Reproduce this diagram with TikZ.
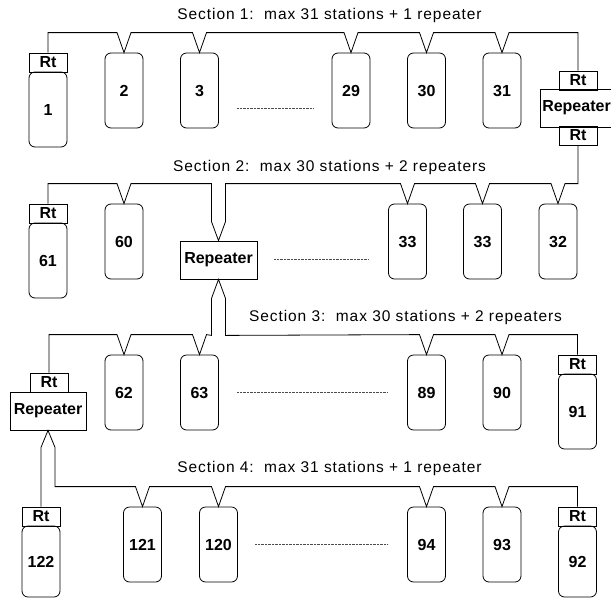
\documentclass[tikz,border=0pt]{standalone}
\usepackage{fontspec}
\setmainfont{Liberation Sans}
\newfontfamily\titlefont[LetterSpace=6]{Liberation Sans}
\newfontfamily\labfont{Liberation Sans}
\newcommand\vtap[1]{-- ([xshift=-7pt,yshift=20pt]#1.north) -- (#1.north) -- ([xshift=7pt,yshift=20pt]#1.north)}
\begin{document}
\begin{tikzpicture}[x=1pt,y=-1pt,line width=0.8pt,
  lab/.style={font=\labfont\bfseries\fontsize{16}{19}\selectfont},
  station/.style={draw,lab,rounded corners=6pt,minimum width=38pt,minimum height=75pt,inner sep=0pt},
  rtbody/.style={draw,lab,rounded corners=6pt,minimum width=38pt,minimum height=75pt,inner sep=0pt},
  rtbox/.style={draw,lab,minimum width=38pt,minimum height=19pt,inner sep=0pt},
  repbox/.style={draw,lab,minimum height=38pt,inner sep=0pt},
  sectitle/.style={anchor=base,inner sep=0pt,font=\titlefont\fontsize{15.5}{18}\selectfont},
  ellip/.style={line width=0.5pt,black!70,dash pattern=on 0.8pt off 0.6pt}]
\useasboundingbox (0,0) rectangle (611,598);
\clip (0,0) rectangle (611,598);

% titles
\node[sectitle] (t1) at (329.5,19) {Section 1:\ \ max 31 stations + 1 repeater};
\node[sectitle] (t2) at (329.5,171) {Section 2:\ \ max 30 stations + 2 repeaters};
\node[sectitle] (t3) at (405.5,321) {Section 3:\ \ max 30 stations + 2 repeaters};
\node[sectitle] (t4) at (329.5,472) {Section 4:\ \ max 31 stations + 1 repeater};

% row 1
\node[rtbox] (rt1) at (48,62.5) {Rt};
\node[rtbody] (s1) at (48,109.5) {1};
\node[station] (s2) at (124,90.5) {2};
\node[station] (s3) at (199.5,90.5) {3};
\node[station] (s29) at (351,90.5) {29};
\node[station] (s30) at (426.5,90.5) {30};
\node[station] (s31) at (502,90.5) {31};
\node[rtbox] (rtr1a) at (578,80.5) {Rt};
\node[repbox,minimum width=73pt] (rep1) at (576.5,108) {Repeater};
\node[rtbox] (rtr1b) at (578,135.5) {Rt};

% row 2
\node[rtbox] (rt61) at (48,213.5) {Rt};
\node[rtbody] (s61) at (48,260.5) {61};
\node[station] (s60) at (124,241.5) {60};
\node[repbox,minimum width=77pt] (rep2) at (218.5,260) {Repeater};
\node[station] (s33a) at (407.5,241.5) {33};
\node[station] (s33b) at (482.5,241.5) {33};
\node[station] (s32) at (558,241.5) {32};

% row 3
\node[rtbox] (rtr3) at (49,382.5) {Rt};
\node[repbox,minimum width=76pt] (rep3) at (48,411) {Repeater};
\node[station] (s62) at (124,392.5) {62};
\node[station] (s63) at (199.5,392.5) {63};
\node[station] (s89) at (426.5,392.5) {89};
\node[station] (s90) at (502,392.5) {90};
\node[rtbox] (rt91) at (577.5,364.5) {Rt};
\node[rtbody] (s91) at (577.5,411.5) {91};

% row 4
\node[rtbox] (rt122) at (41,516.5) {Rt};
\node[rtbody,minimum height=71pt] (s122) at (41,561.5) {122};
\node[station] (s121) at (142.5,544.5) {121};
\node[station] (s120) at (218.5,544.5) {120};
\node[station] (s94) at (426.5,544.5) {94};
\node[station] (s93) at (502,544.5) {93};
\node[rtbox] (rt92) at (577.5,516.5) {Rt};
\node[rtbody,minimum height=71pt] (s92) at (577.5,561.5) {92};

% buses
\draw (rt1.north) |- ([xshift=-7pt,yshift=20pt]s2.north) -- (s2.north) -- ([xshift=7pt,yshift=20pt]s2.north)
  \vtap{s3} \vtap{s29} \vtap{s30} \vtap{s31} -| (rtr1a.north);

\draw (rt61.north) |- ([xshift=-7pt,yshift=20pt]s60.north) -- (s60.north) -- ([xshift=7pt,yshift=20pt]s60.north)
  -- ([xshift=-7pt,yshift=57pt]rep2.north) -- ([xshift=-7pt,yshift=19pt]rep2.north) -- (rep2.north)
  -- ([xshift=7pt,yshift=19pt]rep2.north) -- ([xshift=7pt,yshift=57pt]rep2.north)
  \vtap{s33a} \vtap{s33b} \vtap{s32} -| (rtr1b.south);

\draw (rtr3.north) |- ([xshift=-7pt,yshift=20pt]s62.north) -- (s62.north) -- ([xshift=7pt,yshift=20pt]s62.north)
  \vtap{s63} -- ([xshift=-7pt,yshift=-56pt]rep2.south) -- ([xshift=-7pt,yshift=-19pt]rep2.south) -- (rep2.south)
  -- ([xshift=7pt,yshift=-19pt]rep2.south) -- ([xshift=7pt,yshift=-56pt]rep2.south)
  \vtap{s89} \vtap{s90} -| (rt91.north);

\draw (rt122.north) -- ([xshift=-7pt,yshift=-17pt]rep3.south) -- (rep3.south) -- ([xshift=7pt,yshift=-17pt]rep3.south)
  |- ([xshift=-7pt,yshift=20pt]s121.north) -- (s121.north) -- ([xshift=7pt,yshift=20pt]s121.north)
  \vtap{s120} \vtap{s94} \vtap{s93} -| (rt92.north);

% ellipsis lines
\coordinate (d1a) at (237,108); \coordinate (d1b) at (313,108);
\coordinate (d2a) at (274,259); \coordinate (d2b) at (368,259);
\coordinate (d3a) at (237,392); \coordinate (d3b) at (388,392);
\coordinate (d4a) at (255,544); \coordinate (d4b) at (388,544);
\draw[ellip] (d1a) -- (d1b);
\draw[ellip] (d2a) -- (d2b);
\draw[ellip] (d3a) -- (d3b);
\draw[ellip] (d4a) -- (d4b);
\end{tikzpicture}
\end{document}
